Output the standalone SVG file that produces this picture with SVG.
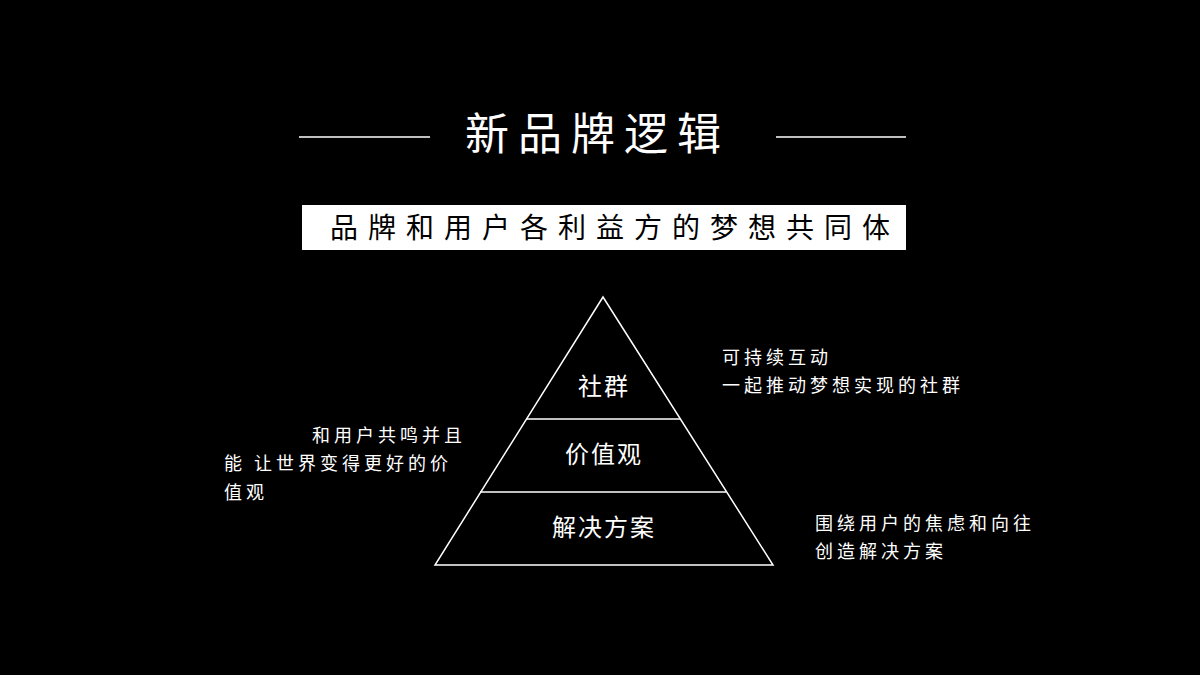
<svg xmlns="http://www.w3.org/2000/svg" width="1200" height="675" viewBox="0 0 1200 675">
<style>
text{font-family:"Noto Sans CJK SC","Noto Sans",sans-serif;fill:#fff}
.l{stroke:#fff;stroke-width:1.5;fill:none}
.s{font-size:18px;letter-spacing:4px}
.p{font-size:24px;text-anchor:middle;letter-spacing:2px}
</style>
<rect width="1200" height="675" fill="#000"/>
<g id="title">
<text x="465" y="150" font-size="44" letter-spacing="9">新品牌逻辑</text>
<line class="l" x1="299" y1="137" x2="430" y2="137"/>
<line class="l" x1="776" y1="137" x2="906" y2="137"/>
</g>
<g id="subtitle">
<rect x="302" y="205" width="604" height="45" fill="#fff"/>
<text x="330" y="238" font-size="28" letter-spacing="10" style="fill:#000">品牌和用户各利益方的梦想共同体</text>
</g>
<g id="pyramid">
<polygon class="l" points="603,297 435,565 773,565"/>
<line class="l" x1="526" y1="419" x2="680" y2="419"/>
<line class="l" x1="480" y1="492" x2="726" y2="492"/>
</g>
<g id="n1"><text class="p" x="604" y="395">社群</text></g>
<g id="n2"><text class="p" x="604" y="463">价值观</text></g>
<g id="n3"><text class="p" x="604" y="536">解决方案</text></g>
<g id="r1"><text class="s" x="722" y="364">可持续互动</text><text class="s" x="722" y="392">一起推动梦想实现的社群</text></g>
<g id="l1"><text class="s" x="312" y="442">和用户共鸣并且</text><text class="s" x="224" y="470" letter-spacing="5.5">能 让世界变得更好的价</text><text class="s" x="224" y="499">值观</text></g>
<g id="r2"><text class="s" x="815" y="530">围绕用户的焦虑和向往</text><text class="s" x="815" y="558">创造解决方案</text></g>
<g id="connectors"></g>
</svg>
